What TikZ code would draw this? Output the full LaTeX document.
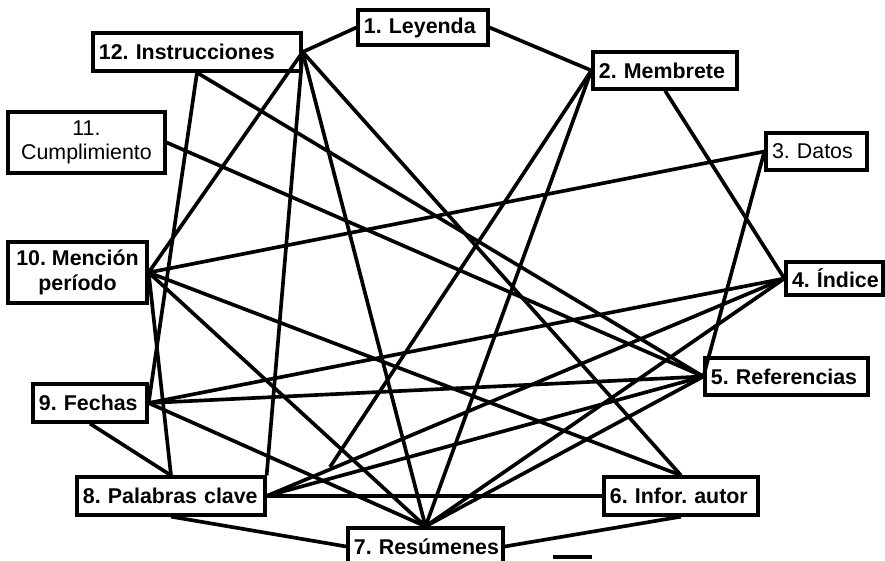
\documentclass[tikz,border=0pt]{standalone}
\usepackage{fontspec}
\setmainfont{Liberation Sans}
\frenchspacing
\begin{document}
\begin{tikzpicture}[x=0.025cm, y=-0.025cm, line width=2.6pt,
    main/.style = {draw, rectangle, inner xsep=0.15cm, inner ysep=0pt, align=left, line width=2.3pt, font=\fontsize{15.2}{17.5}\selectfont\bfseries},
    plain/.style = {main, font=\fontsize{15.2}{17.5}\selectfont}]
    \useasboundingbox (0,0) rectangle (885,560);

    \node[main] (1) at (423,27.5) [text width=2.95cm, minimum height=0.875cm] {1.~Leyenda};
    \node[main] (2) at (665,70.5) [text width=3.3cm, minimum height=0.925cm] {2.~Membrete};
    \node[plain] (3) at (816.5,151.5) [text width=2.225cm, minimum height=0.925cm] {3.~Datos};
    \node[main] (4) at (834.5,278.5) [text width=2.125cm, minimum height=0.825cm] {4.~Índice};
    \node[main] (5) at (786.5,376.5) [text width=3.775cm, minimum height=0.925cm] {5.~Referencias};
    \node[main] (6) at (681,496) [text width=3.55cm, minimum height=0.95cm] {6.~Infor.~autor};
    \node[main] (7) at (425.5,546.5) [text width=3.575cm, minimum height=0.925cm] {7.~Resúmenes};
    \node[main] (8) at (171,496) [text width=4.4cm, minimum height=0.95cm] {8.~Palabras~clave};
    \node[main] (9) at (90,403) [text width=2.55cm, minimum height=0.95cm] {9.~Fechas};
    \node[main, align=center] (10) at (77.5,272.5) [minimum width=3.475cm, minimum height=1.525cm] {10. Mención\\período};
    \node[plain, align=center] (11) at (86.5,142.5) [minimum width=3.925cm, minimum height=1.525cm] {11.\\Cumplimiento};
    \node[main] (12) at (197,52) [text width=4.9cm, minimum height=0.95cm] {12.~Instrucciones};

    \coordinate (s) at (330,467);
    \coordinate (m1) at (553,557);
    \coordinate (m2) at (592,557);

    \draw (1.east) -- (2.west);
    \draw (12.east) -- (1.west);

    \draw (12.east) -- (10.east);
    \draw (12.east) -- (8.north east);
    \draw (12.east) -- (7.north);
    \draw (12.east) -- (6.north);
    \draw (12.south) -- (9.east);
    \draw (12.south) -- (5.west);

    \draw (11.east) -- (5.west);

    \draw (10.east) -- (3.west);
    \draw (10.east) -- (6.north);
    \draw (10.east) -- (7.north);
    \draw (10.east) -- (8.north);

    \draw (9.east) -- (4.west);
    \draw (9.east) -- (5.west);
    \draw (9.east) -- (7.north);
    \draw (9.south) -- (8.north);

    \draw (8.east) -- (6.west);
    \draw (8.east) -- (4.west);
    \draw (8.east) -- (5.west);
    \draw (8.south) -- (7.west);

    \draw (2.south) -- (4.west);
    \draw (2.west) -- (7.north);
    \draw (2.west) -- (s);

    \draw (3.west) -- (5.west);
    \draw (4.west) -- (7.north);
    \draw (5.west) -- (7.north);
    \draw (6.south) -- (7.east);

    \draw[line width=3pt] (m1) -- (m2);
\end{tikzpicture}
\end{document}
